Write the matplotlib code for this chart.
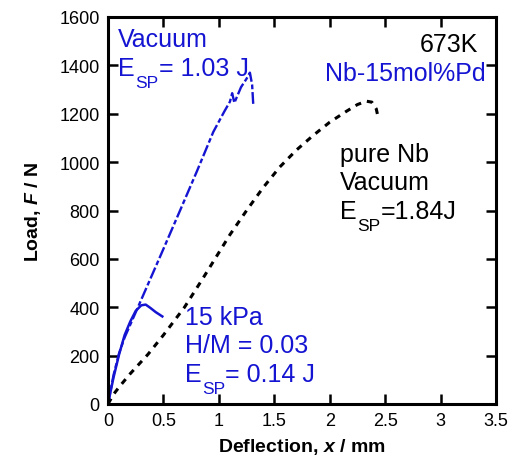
import matplotlib
matplotlib.use("Agg")
import matplotlib.pyplot as plt
from matplotlib.transforms import offset_copy

plt.rcParams['font.family'] = ['Liberation Sans', 'DejaVu Sans']
plt.rcParams['mathtext.fontset'] = 'custom'
plt.rcParams['mathtext.rm'] = 'Liberation Sans'
plt.rcParams['mathtext.it'] = 'Liberation Sans:italic'
plt.rcParams['mathtext.bf'] = 'Liberation Sans:bold'
plt.rcParams['mathtext.bfit'] = 'Liberation Sans:bold:italic'

# pure Nb, vacuum (black dotted)
nb_x = [0, 0.05, 0.1, 0.2, 0.36, 0.5, 0.69, 0.85, 0.965, 1.1, 1.25, 1.4, 1.55, 1.7, 1.85, 2.0, 2.15, 2.25, 2.33, 2.38, 2.42, 2.44]
nb_F = [0, 40, 70, 125, 205, 285, 400, 515, 600, 700, 800, 895, 980, 1050, 1110, 1165, 1210, 1238, 1252, 1248, 1220, 1178]

# Nb-15mol%Pd, vacuum (blue dashed)
vac_x = [0, 0.05, 0.1, 0.15, 0.27, 0.48, 0.65, 0.8, 0.95, 1.05, 1.1, 1.12, 1.14, 1.2, 1.25, 1.28, 1.3, 1.31]
vac_F = [0, 120, 210, 275, 400, 620, 800, 960, 1125, 1210, 1250, 1285, 1245, 1310, 1345, 1370, 1320, 1240]

# Nb-15mol%Pd, 15 kPa (blue solid)
kpa_x = [0, 0.05, 0.1, 0.15, 0.2, 0.25, 0.3, 0.34, 0.38, 0.43, 0.49]
kpa_F = [0, 110, 205, 285, 340, 385, 408, 411, 398, 380, 362]

blue = '#1414d2'

fig = plt.figure(figsize=(5.14, 4.64), dpi=100)
ax = fig.add_axes([108 / 514, 1 - 405 / 464, 388 / 514, 387 / 464])

ax.plot(nb_x, nb_F, color='black', linestyle=(0, (2, 2)), linewidth=2.2)
ax.plot(vac_x, vac_F, color=blue, linestyle=(0, (5, 1.2, 2, 1.2)), linewidth=1.7)
ax.plot(kpa_x, kpa_F, color=blue, linestyle='-', linewidth=1.8)

ax.set_xlim(0, 3.5)
ax.set_ylim(0, 1600)
ax.set_xticks([0, 0.5, 1, 1.5, 2, 2.5, 3, 3.5])
ax.set_xticklabels(['0', '0.5', '1', '1.5', '2', '2.5', '3', '3.5'])
ax.set_yticks(range(0, 1601, 200))
ax.tick_params(direction='in', length=7, width=1.8, top=True, right=True, labelsize=13, pad=6)
for s in ax.spines.values():
    s.set_linewidth(2.2)

ax.set_xlabel(r'Deflection, $\bfit{x}$ / mm', fontsize=14, fontweight='bold', labelpad=5)
ax.set_ylabel(r'Load, $\bfit{F}$ / N', fontsize=14, fontweight='bold', labelpad=12)

FS = 18


def label(x, y, s, color, ha='left'):
    ax.text(x, y, s, color=color, fontsize=FS, transform=ax.transAxes, va='baseline', ha=ha)


def esp_label(x, y, rest, color):
    # "E" with a low, fairly large "SP" subscript, then the rest of the line
    t = ax.text(x, y, 'E', color=color, fontsize=FS, transform=ax.transAxes, va='baseline')
    fig.canvas.draw()
    w = t.get_window_extent().width * 72 / fig.dpi
    tr = offset_copy(ax.transAxes, fig=fig, x=w + 0.5, y=-8.5, units='points')
    s = ax.text(x, y, 'SP', color=color, fontsize=12.5, transform=tr, va='baseline')
    fig.canvas.draw()
    w2 = s.get_window_extent().width * 72 / fig.dpi
    tr2 = offset_copy(ax.transAxes, fig=fig, x=w + w2 + 0.5, y=0, units='points')
    ax.text(x, y, rest, color=color, fontsize=FS, transform=tr2, va='baseline')


label(0.026, 0.925, 'Vacuum', blue)
esp_label(0.026, 0.850, '= 1.03 J', blue)
label(0.954, 0.912, '673K', 'black', ha='right')
label(0.972, 0.838, 'Nb-15mol%Pd', blue, ha='right')
label(0.598, 0.628, 'pure Nb', 'black')
label(0.598, 0.556, 'Vacuum', 'black')
esp_label(0.598, 0.481, '=1.84J', 'black')
label(0.198, 0.207, '15 kPa', blue)
label(0.198, 0.134, 'H/M = 0.03', blue)
esp_label(0.198, 0.059, '= 0.14 J', blue)

fig.savefig('out.png', dpi=100)
